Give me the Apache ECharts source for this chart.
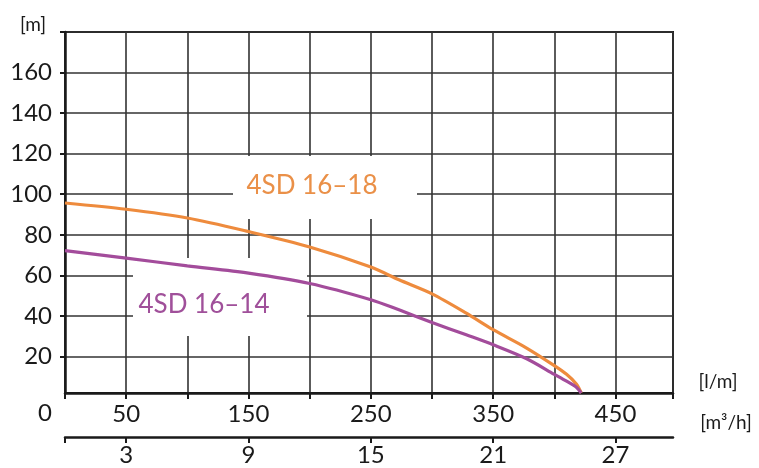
<!DOCTYPE html>
<html>
<head>
<meta charset="utf-8">
<script src="https://cdn.jsdelivr.net/npm/echarts@6/dist/echarts.min.js"></script>
<style>
html,body{margin:0;padding:0;background:#fff;}
#chart{width:759px;height:468px;}
</style>
</head>
<body>
<div id="chart"></div>
<script>
// Data (flow in l/min, head in m)
const flow1818 = [0, 50, 100, 150, 200, 250, 273, 300, 328, 350, 377, 400, 410, 418, 422];
const head1818 = [95.7, 92.6, 88.3, 81.6, 74.0, 64.1, 57.8, 50.9, 41.4, 33.2, 24.3, 15.5, 11.2, 6.4, 2.0];
const flow1814 = [0, 50, 100, 150, 200, 250, 273, 300, 328, 350, 377, 400, 410, 418, 422];
const head1814 = [72.2, 68.5, 64.7, 61.1, 56.0, 48.0, 43.0, 36.8, 30.7, 25.8, 19.0, 11.2, 7.8, 4.8, 2.0];
const yTicks = [20, 40, 60, 80, 100, 120, 140, 160, 180];
const yLabels = [20, 40, 60, 80, 100, 120, 140, 160];
const lmTicks = [0, 50, 100, 150, 200, 250, 300, 350, 400, 450, 497];
const lmLabels = [50, 150, 250, 350, 450];
const m3hTicks = [0, 3, 9, 15, 21, 27];
const m3hLabels = [3, 9, 15, 21, 27];
const seriesNames = ['4SD 16–18', '4SD 16–14'];

const FONT = 'Lato';
const ORANGE = '#EE8B3D';
const PURPLE = '#A34C9B';

const chart = echarts.init(document.getElementById('chart'), null, {renderer: 'canvas'});
const zip = (a, b) => a.map((v, i) => [v, b[i]]);

chart.setOption({
  animation: false,
  backgroundColor: '#fff',
  grid: {left: 65, top: 32, right: 86, bottom: 75, show: true, borderColor: '#1a1a1a', borderWidth: 2, backgroundColor: 'transparent'},
  xAxis: [{
    type: 'value', min: 0, max: 497, interval: 50, position: 'bottom',
    axisLine: {show: true, lineStyle: {color: '#1a1a1a', width: 2.5}},
    axisTick: {show: true, inside: false, length: 6, customValues: lmTicks, lineStyle: {color: '#1a1a1a', width: 2}},
    axisLabel: {show: true, customValues: lmLabels, margin: 9, fontFamily: FONT, fontSize: 24, color: '#1a1a1a'},
    splitLine: {show: true, lineStyle: {color: '#333', width: 1.6}}
  }, {
    type: 'value', min: 0, max: 497 / 16.6667, position: 'bottom', offset: 44,
    axisLine: {show: true, lineStyle: {color: '#1a1a1a', width: 2.5}},
    axisTick: {show: true, inside: false, length: 6, customValues: m3hTicks, lineStyle: {color: '#1a1a1a', width: 2}},
    axisLabel: {show: true, customValues: m3hLabels, margin: 6, fontFamily: FONT, fontSize: 24, color: '#1a1a1a'},
    splitLine: {show: false}
  }],
  yAxis: {
    type: 'value', min: 2, max: 180,
    axisLine: {show: true, lineStyle: {color: '#1a1a1a', width: 2.5}},
    axisTick: {show: true, inside: false, length: 5, customValues: yTicks, lineStyle: {color: '#1a1a1a', width: 2}},
    axisLabel: {show: true, customValues: yLabels, margin: 13, fontFamily: FONT, fontSize: 24, color: '#1a1a1a'},
    splitLine: {show: true, lineStyle: {color: '#333', width: 1.6}}
  },
  graphic: [
    {type: 'rect', z: 1, shape: {x: 233, y: 156, width: 184, height: 63}, style: {fill: '#fff'}},
    {type: 'rect', z: 1, shape: {x: 133, y: 258, width: 174, height: 78}, style: {fill: '#fff'}},
    {type: 'text', z: 5, style: {text: seriesNames[0], x: 312, y: 186, align: 'center', verticalAlign: 'middle', font: '26px ' + FONT, fill: '#EA9048'}},
    {type: 'text', z: 5, style: {text: seriesNames[1], x: 204, y: 305, align: 'center', verticalAlign: 'middle', font: '26px ' + FONT, fill: '#A0509A'}},
    {type: 'text', z: 5, style: {text: '[m]', x: 33, y: 25, align: 'center', verticalAlign: 'middle', font: '19px ' + FONT, fill: '#1a1a1a'}},
    {type: 'text', z: 5, style: {text: '0', x: 45, y: 413, align: 'center', verticalAlign: 'middle', font: '24px ' + FONT, fill: '#1a1a1a'}},
    {type: 'text', z: 5, style: {text: '[l/m]', x: 718, y: 382, align: 'center', verticalAlign: 'middle', font: '19px ' + FONT, fill: '#1a1a1a'}},
    {type: 'text', z: 5, style: {text: '[m³/h]', x: 726, y: 423, align: 'center', verticalAlign: 'middle', font: '19px ' + FONT, fill: '#1a1a1a'}}
  ],
  series: [{
    name: seriesNames[0], type: 'line', xAxisIndex: 0, z: 3,
    data: zip(flow1818, head1818), showSymbol: false, smooth: 0.3,
    lineStyle: {color: ORANGE, width: 3.2}, itemStyle: {color: ORANGE}
  }, {
    name: seriesNames[1], type: 'line', xAxisIndex: 0, z: 3,
    data: zip(flow1814, head1814), showSymbol: false, smooth: 0.3,
    lineStyle: {color: PURPLE, width: 3.2}, itemStyle: {color: PURPLE}
  }]
});
</script>
</body>
</html>
